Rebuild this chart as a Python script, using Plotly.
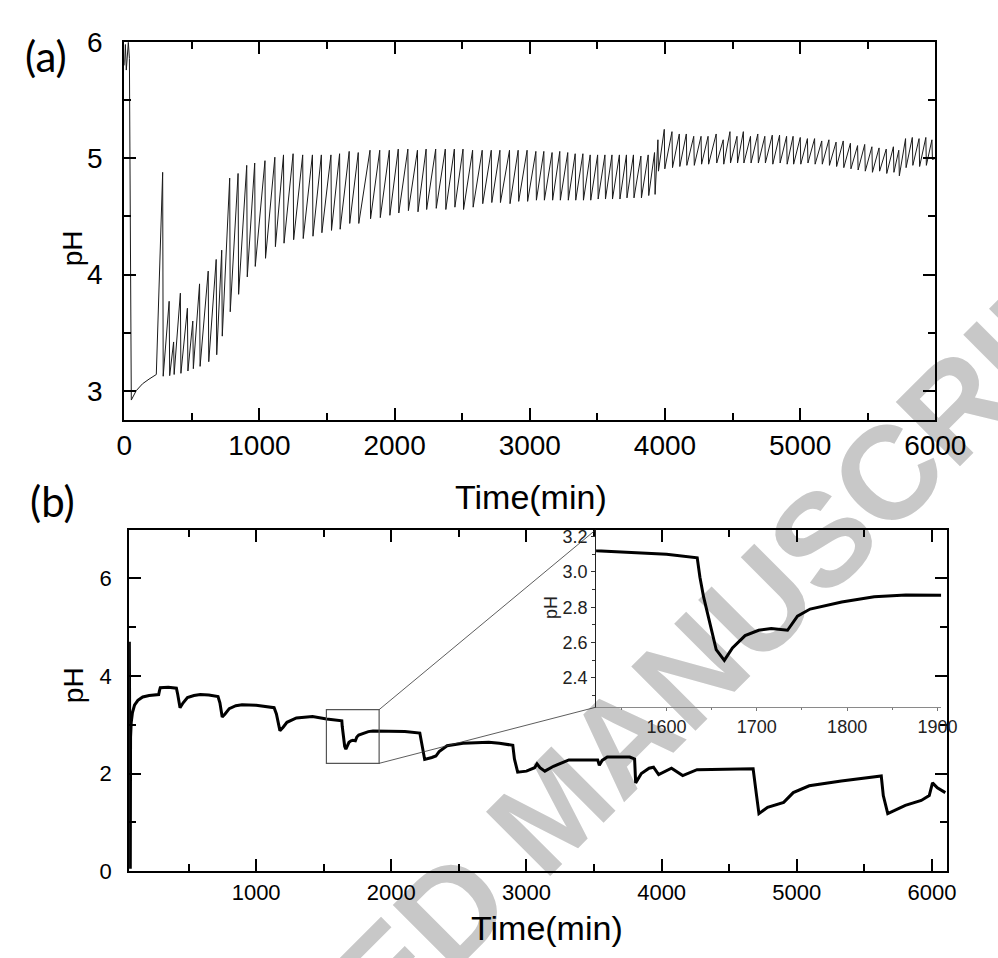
import plotly.graph_objects as go

# ---------------- data ----------------
# Panel (a): start of the run (min, pH)
a_init_time = [0, 8, 15, 22, 30, 38, 45, 52, 88, 135, 183, 237]
a_init_ph = [5.80, 5.98, 5.76, 5.90, 6.00, 5.86, 4.20, 2.92, 3.00, 3.06, 3.10, 3.14]

# Panel (a): sawtooth cycles - time of each peak, peak pH and the pH right after the drop
a_peak_time = [
    284, 332, 365, 415, 467, 507, 557, 621, 680, 721,
    780, 842, 906, 965, 1041, 1114, 1178, 1249, 1320, 1392,
    1458, 1529, 1593, 1664, 1731, 1818, 1890, 1961, 2027, 2098,
    2169, 2233, 2304, 2375, 2442, 2506, 2577, 2648, 2715, 2779,
    2850, 2914, 2980, 3045, 3104, 3165, 3222, 3281, 3336, 3393,
    3447, 3502, 3556, 3608, 3663, 3715, 3767, 3822, 3876, 3923,
    3948, 3995, 4052, 4106, 4158, 4213, 4267, 4319, 4379, 4431,
    4481, 4533, 4580, 4633, 4687, 4739, 4794, 4848, 4900, 4948,
    5001, 5054, 5107, 5160, 5213, 5266, 5319, 5372, 5425, 5478,
    5531, 5584, 5637, 5690, 5730, 5780, 5830, 5880, 5930, 5975,
]
a_peak_ph = [
    4.88, 3.77, 3.42, 3.84, 3.71, 3.60, 3.92, 4.03, 4.13, 4.21,
    4.83, 4.87, 4.94, 4.96, 4.98, 5.01, 5.03, 5.04, 5.03, 5.03,
    5.03, 5.03, 5.04, 5.06, 5.05, 5.07, 5.07, 5.07, 5.08, 5.08,
    5.07, 5.08, 5.08, 5.08, 5.08, 5.08, 5.07, 5.07, 5.07, 5.07,
    5.07, 5.07, 5.07, 5.06, 5.06, 5.05, 5.06, 5.05, 5.04, 5.04,
    5.03, 5.03, 5.03, 5.03, 5.03, 5.03, 5.03, 5.02, 5.03, 5.05,
    5.16, 5.25, 5.23, 5.21, 5.21, 5.19, 5.19, 5.19, 5.21, 5.16,
    5.23, 5.19, 5.23, 5.19, 5.21, 5.19, 5.20, 5.20, 5.19, 5.19,
    5.18, 5.17, 5.17, 5.15, 5.16, 5.14, 5.15, 5.13, 5.11, 5.12,
    5.10, 5.09, 5.08, 5.10, 5.07, 5.17, 5.18, 5.17, 5.18, 5.16,
]
a_trough_ph = [
    3.125, 3.13, 3.14, 3.15, 3.17, 3.19, 3.21, 3.25, 3.31, 3.47,
    3.68, 3.83, 3.98, 4.07, 4.14, 4.24, 4.27, 4.30, 4.31, 4.33,
    4.36, 4.38, 4.39, 4.44, 4.44, 4.48, 4.49, 4.51, 4.53, 4.55,
    4.54, 4.56, 4.57, 4.56, 4.58, 4.56, 4.58, 4.61, 4.62, 4.62,
    4.61, 4.63, 4.63, 4.64, 4.64, 4.64, 4.64, 4.64, 4.64, 4.64,
    4.64, 4.65, 4.65, 4.65, 4.65, 4.66, 4.66, 4.66, 4.68, 4.69,
    4.89, 4.91, 4.92, 4.93, 4.94, 4.94, 4.95, 4.95, 4.96, 4.95,
    4.96, 4.96, 4.96, 4.96, 4.96, 4.96, 4.95, 4.96, 4.95, 4.95,
    4.95, 4.96, 4.95, 4.95, 4.94, 4.93, 4.92, 4.91, 4.90, 4.89,
    4.88, 4.89, 4.87, 4.88, 4.85, 4.92, 4.94, 4.93, 4.94, 4.99,
]
a_drop_minutes = 4          # duration of the sharp pH drop after each peak
a_end_time = [6000]
a_end_ph = [5.00]

# Panel (b): pH-free run (min, pH)
b_time = [
    62, 64, 69, 71, 76, 85, 100, 125, 161, 209, 279, 285, 291, 350, 410, 420, 437, 460,
    492, 540, 587, 650, 718, 732, 749, 770, 801, 850, 896, 1000, 1133, 1150, 1176, 1200,
    1228, 1298, 1417, 1522, 1560, 1600, 1634, 1637, 1641, 1648, 1655, 1664, 1673, 1687,
    1702, 1716, 1734, 1745, 1759, 1794, 1830, 1865, 1904, 2000, 2100, 2211, 2224, 2247,
    2300, 2330, 2354, 2413, 2531, 2600, 2721, 2800, 2899, 2911, 2935, 3000, 3060, 3078,
    3100, 3136, 3200, 3314, 3527, 3539, 3560, 3598, 3764, 3800, 3808, 3850, 3907, 3940,
    3978, 4073, 4156, 4262, 4500, 4677, 4700, 4720, 4784, 4903, 4974, 5092, 5329, 5625,
    5640, 5673, 5803, 5921, 5980, 6004, 6040, 6099,
]
b_ph = [
    4.70, 0.05, 0.05, 2.75, 3.05, 3.25, 3.40, 3.50, 3.57, 3.60, 3.62, 3.70, 3.76, 3.77, 3.75, 3.62, 3.35, 3.45,
    3.56, 3.60, 3.62, 3.61, 3.58, 3.45, 3.16, 3.22, 3.33, 3.39, 3.41, 3.40, 3.35, 3.22, 2.88, 2.95,
    3.05, 3.14, 3.17, 3.12, 3.11, 3.10, 3.08, 2.97, 2.86, 2.71, 2.56, 2.50, 2.57, 2.64,
    2.67, 2.68, 2.67, 2.75, 2.79, 2.83, 2.86, 2.87, 2.87, 2.86, 2.86, 2.83, 2.60, 2.29,
    2.33, 2.36, 2.45, 2.57, 2.62, 2.63, 2.64, 2.62, 2.58, 2.30, 2.03, 2.05, 2.12, 2.20,
    2.12, 2.05, 2.15, 2.28, 2.28, 2.17, 2.27, 2.34, 2.34, 2.30, 1.81, 2.00, 2.11, 2.13,
    1.98, 2.11, 1.96, 2.08, 2.10, 2.10, 1.60, 1.18, 1.31, 1.41, 1.61, 1.75, 1.85, 1.95,
    1.55, 1.18, 1.35, 1.45, 1.55, 1.81, 1.71, 1.61,
]

# region of panel (b) that is enlarged in the inset
zoom_box_time = [1520, 1910]
zoom_box_ph = [2.21, 3.31]

x_ticks_a = [0, 1000, 2000, 3000, 4000, 5000, 6000]
watermark_text = "ACCEPTED MANUSCRIPT"

# ---------------- build the sawtooth polyline for (a) ----------------
a_time = list(a_init_time)
a_ph = list(a_init_ph)
for t, p, tr in zip(a_peak_time, a_peak_ph, a_trough_ph):
    a_time += [t, t + a_drop_minutes]
    a_ph += [p, tr]
a_time += a_end_time
a_ph += a_end_ph

# ---------------- layout geometry ----------------
W, H = 998, 958
FONT = "Liberation Sans, Arial, sans-serif"
EN_SPACE = "\u2002"


def fx(px):
    return px / W


def fy(py):
    return 1 - py / H


a_xdom = [fx(121), fx(965)]
a_ydom = [fy(417), fy(28)]
b_xdom = [fx(126), fx(977)]
b_ydom = [fy(882), fy(530)]
i_xdom = [fx(612), fx(971)]
i_ydom = [fy(713), fy(530)]

a_xrange = [0, 6000]
a_yrange = [2.75, 6]
b_xrange = [60, 6110]
b_yrange = [0, 7]
i_xrange = [1522, 1904]
i_yrange = [2.235, 3.24]


def main_axis(fontsize, minor_step, **kw):
    d = dict(
        showline=True, linecolor="black", linewidth=2, mirror="ticks",
        ticks="inside", ticklen=12, tickwidth=2, tickcolor="black",
        minor=dict(ticks="inside", ticklen=7, tickwidth=2, tickcolor="black",
                   dtick=minor_step, tick0=0, showgrid=False),
        showgrid=False, zeroline=False,
        tickfont=dict(family=FONT, size=fontsize, color="black"),
    )
    d.update(kw)
    return d


fig = go.Figure()
fig.add_trace(go.Scatter(x=a_time, y=a_ph, mode="lines",
                         line=dict(color="#1a1a1a", width=1),
                         xaxis="x", yaxis="y", hoverinfo="skip"))
fig.add_trace(go.Scatter(x=b_time, y=b_ph, mode="lines",
                         line=dict(color="black", width=3),
                         xaxis="x2", yaxis="y2", hoverinfo="skip"))
fig.add_trace(go.Scatter(x=b_time, y=b_ph, mode="lines",
                         line=dict(color="black", width=3),
                         xaxis="x3", yaxis="y3", hoverinfo="skip"))

fig.update_layout(
    width=W, height=H,
    margin=dict(l=0, r=0, t=0, b=0),
    paper_bgcolor="white", plot_bgcolor="rgba(0,0,0,0)",
    showlegend=False,
    xaxis=main_axis(28, 500, domain=a_xdom, range=a_xrange, anchor="y",
                    tickmode="array", tickvals=x_ticks_a),
    yaxis=main_axis(28, 0.5, domain=a_ydom, range=a_yrange, anchor="x", tick0=0, dtick=1,
                    ticksuffix=EN_SPACE),
    xaxis2=main_axis(22, 500, domain=b_xdom, range=b_xrange, anchor="y2", tick0=0, dtick=1000),
    yaxis2=main_axis(22, 1, domain=b_ydom, range=b_yrange, anchor="x2", tick0=0, dtick=2,
                     ticksuffix=EN_SPACE),
    xaxis3=dict(domain=i_xdom, range=i_xrange, anchor="y3", tick0=0, dtick=100,
                showline=True, linecolor="#8a8a8a", linewidth=1, mirror=False,
                ticks="outside", ticklen=3, tickwidth=1, tickcolor="#777",
                minor=dict(ticks="outside", ticklen=2, tickwidth=1, tickcolor="#777", dtick=50, tick0=0),
                showgrid=False, zeroline=False,
                tickfont=dict(family=FONT, size=18, color="#222")),
    yaxis3=dict(domain=i_ydom, range=i_yrange, anchor="x3", tick0=0, dtick=0.2, tickformat=".1f",
                showline=True, linecolor="#222", linewidth=1, mirror=False,
                ticks="outside", ticklen=4, tickwidth=1, tickcolor="#333",
                minor=dict(ticks="outside", ticklen=3, tickwidth=1, tickcolor="#333", dtick=0.1, tick0=0),
                showgrid=False, zeroline=False,
                tickfont=dict(family=FONT, size=18, color="#222")),
)

# ---- text labels ----
ann = [
    dict(text="(a)", x=fx(40), y=fy(42), font=dict(family="Lato, Noto Sans, sans-serif", size=42)),
    dict(text="(b)", x=fx(46), y=fy(501), font=dict(family="Lato, Noto Sans, sans-serif", size=42)),
    dict(text="pH", x=fx(68), y=fy(240), textangle=-90, font=dict(family=FONT, size=28)),
    dict(text="pH", x=fx(68), y=fy(690), textangle=-90, font=dict(family=FONT, size=28)),
    dict(text="pH", x=fx(565), y=fy(610), textangle=-90, font=dict(family=FONT, size=18, color="#222")),
    dict(text="Time(min)", x=fx(544), y=fy(496), font=dict(family=FONT, size=34)),
    dict(text="Time(min)", x=fx(561), y=fy(940), font=dict(family=FONT, size=34)),
]
for a in ann:
    a.update(xref="paper", yref="paper", showarrow=False, xanchor="center", yanchor="middle")
    a["font"].setdefault("color", "black")
    fig.add_annotation(**a)

# ---- watermark (behind everything) ----
cx, cy = fx(558), fy(808)
fig.add_shape(type="rect", xref="paper", yref="paper",
              x0=cx - 0.002, x1=cx + 0.002, y0=cy - 0.002, y1=cy + 0.002,
              line=dict(width=0), fillcolor="rgba(0,0,0,0)", layer="below",
              label=dict(text=watermark_text, textangle=-45,
                         textposition="middle center",
                         font=dict(family=FONT, size=132, color="#c8c8c8", weight="bold")))

# ---- zoom box and connector lines (panel b coordinates) ----
fig.add_shape(type="rect", xref="x2", yref="y2",
              x0=zoom_box_time[0], x1=zoom_box_time[1], y0=zoom_box_ph[0], y1=zoom_box_ph[1],
              line=dict(color="#555", width=1.2), fillcolor="rgba(0,0,0,0)")


def paper_to_b(xp, yp):
    xv = b_xrange[0] + (xp - b_xdom[0]) / (b_xdom[1] - b_xdom[0]) * (b_xrange[1] - b_xrange[0])
    yv = b_yrange[0] + (yp - b_ydom[0]) / (b_ydom[1] - b_ydom[0]) * (b_yrange[1] - b_yrange[0])
    return xv, yv


top_corner = paper_to_b(i_xdom[0], i_ydom[1])
bot_corner = paper_to_b(i_xdom[0], i_ydom[0])
fig.add_shape(type="line", xref="x2", yref="y2",
              x0=zoom_box_time[1], y0=zoom_box_ph[1], x1=top_corner[0], y1=top_corner[1],
              line=dict(color="#333", width=0.8))
fig.add_shape(type="line", xref="x2", yref="y2",
              x0=zoom_box_time[1], y0=zoom_box_ph[0], x1=bot_corner[0], y1=bot_corner[1],
              line=dict(color="#333", width=0.8))

fig.write_html("out.html", config={"displayModeBar": False},
               post_script="document.body.style.margin='0px';document.body.style.overflow='hidden';")
